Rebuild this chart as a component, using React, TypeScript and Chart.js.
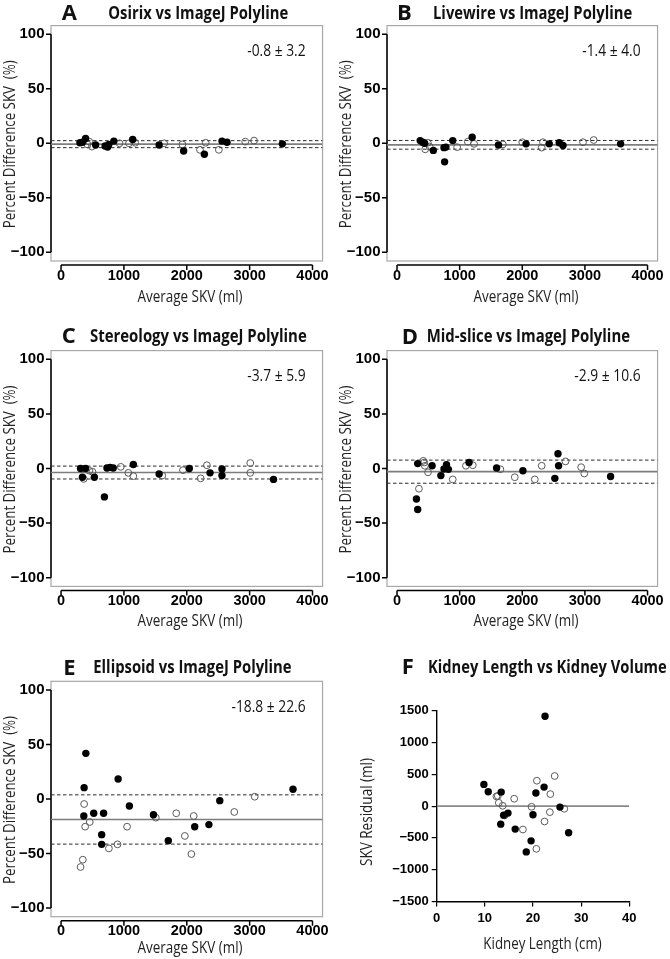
import React, { useEffect, useRef } from 'react';
import { Chart, registerables } from 'chart.js';
Chart.register(...registerables);

// ---------- axes ----------
const SKV_RANGE = [-160, 4160];
const PCT_RANGE = [-108, 108];
const SKV_TICKS = [0, 1000, 2000, 3000, 4000];
const PCT_TICKS = [-100, -50, 0, 50, 100];
const LEN_RANGE = [0, 40];
const RES_RANGE = [-1500, 1500];
const LEN_TICKS = [0, 10, 20, 30, 40];
const RES_TICKS = [-1500, -1000, -500, 0, 500, 1000, 1500];

// ---------- A: Osirix vs ImageJ Polyline ----------
const aSolidX = [300, 340, 390, 550, 700, 740, 760, 840, 1140, 1560, 1950, 2280, 2560, 2640, 3520];
const aSolidY = [0.5, 1, 4.5, -1.5, -2.5, -3.5, -1, 2, 3.5, -1.5, -7, -10, 2, 1, -0.5];
const aOpenX = [420, 450, 490, 930, 1080, 1180, 1640, 1930, 2210, 2300, 2510, 2930, 3070];
const aOpenY = [-1, 1.5, -3, 0, 0, 0.5, 0, -1, -6, 0.5, -6, 1.5, 2.5];
const aStats = [-0.8, 3.2];

// ---------- B: Livewire vs ImageJ Polyline ----------
const bSolidX = [370, 410, 440, 580, 750, 780, 760, 890, 1200, 1620, 2060, 2430, 2590, 2650, 3570];
const bSolidY = [2.5, 1, 0, -6.5, -4, -3.5, -17, 2.5, 5.5, -1.5, -0.5, -0.5, 0.5, -2, -0.5];
const bOpenX = [450, 490, 520, 960, 1130, 1230, 1690, 2000, 2310, 2330, 2970, 3140];
const bOpenY = [-5.5, 0.5, -3, -3.5, 1.5, -0.5, -1, 1, -4, 1, 1, 3];
const bStats = [-1.4, 4.0];

// ---------- C: Stereology vs ImageJ Polyline ----------
const cSolidX = [310, 340, 390, 530, 690, 730, 780, 830, 1150, 1560, 2040, 2370, 2560, 2560, 3380];
const cSolidY = [0, -8, 0, -8, -26, 0.5, 1, 0.5, 3.7, -5, 0, -4, -0.5, -6.5, -10];
const cOpenX = [360, 450, 500, 950, 1070, 1150, 1610, 1940, 2220, 2320, 3010, 3010];
const cOpenY = [-9.5, -2, -3, 1.5, -4, -7, -6.5, -1.5, -9, 3, 5, -4];
const cStats = [-3.7, 5.9];

// ---------- D: Mid-slice vs ImageJ Polyline ----------
const dSolidX = [310, 330, 330, 560, 700, 750, 790, 820, 1150, 1590, 2010, 2520, 2570, 2580, 3410];
const dSolidY = [-28, -37.5, 4.5, 2.5, -6.5, -0.5, 3.5, -0.8, 5.5, 0.5, -2, -9, 13.5, 2.5, -7.3];
const dOpenX = [350, 420, 435, 445, 495, 890, 1100, 1210, 1650, 1880, 2200, 2310, 2690, 2940, 2990];
const dOpenY = [-18.5, 7, 5.5, 2.5, -3.5, -10, 2.5, 3, -0.7, -8, -10, 2.5, 6.5, 1.2, -4.6];
const dStats = [-2.9, 10.6];

// ---------- E: Ellipsoid vs ImageJ Polyline ----------
const eSolidX = [394, 367, 362, 520, 677, 646, 646, 908, 1087, 1470, 1706, 2126, 2352, 2525, 3690];
const eSolidY = [41.9, 10.4, -15.6, -13.1, -13.1, -32.7, -41.6, 18.3, -6.4, -14.4, -38.2, -25.4, -23.5, -1.5, 8.9];
const eOpenX = [367, 383, 457, 346, 310, 761, 898, 1050, 1507, 1832, 1969, 2073, 2110, 2756, 3081];
const eOpenY = [-4.6, -25.4, -21.1, -55.7, -62.4, -45.3, -41.6, -25.4, -17.1, -13.1, -33.9, -50.5, -15.6, -11.9, 2.1];
const eStats = [-18.8, 22.6];

// ---------- F: Kidney Length vs Kidney Volume ----------
const fSolidX = [9.8, 10.7, 13.4, 13.3, 13.9, 14.8, 16.3, 18.6, 19.6, 20.0, 20.6, 22.3, 22.5, 25.6, 27.4];
const fSolidY = [341, 226, 220, -284, -142, -110, -362, -720, -546, -137, 205, 299, 1413, -16, -420];
const fOpenX = [12.4, 12.7, 12.9, 13.7, 14.1, 16.1, 17.9, 19.7, 20.8, 20.7, 22.4, 23.6, 23.5, 24.5, 26.5];
const fOpenY = [152, 160, 52, 5, -147, 116, -368, -11, 399, -672, -242, 189, -95, 473, -42];

const zip = (xs: number[], ys: number[]) => xs.map((x, i) => ({ x, y: ys[i] }));
const fmt = (v: number) => (v < 0 ? '\u2212' + Math.abs(v) : String(v));

const TITLE_FONT = 'bold 17px "Open Sans"';
const LETTER_FONT = 'bold 22px "Open Sans"';
const TEXT_FONT = '16px "Open Sans"';
const TICK_FAMILY = '"Liberation Sans", Arial, sans-serif';

type PanelDef = {
  kind: 'BA' | 'F';
  left: number; top: number; width: number; height: number;
  box: number[]; // page coords L, T, R, B
  letter: string; letterX: number; letterY: number;
  title: string; titleX: number; titleW: number | null; titleY: number;
  xTitle: string; xTitleX: number; xTitleY: number; xTitleW: number;
  yTitle: string; yTitleX: number; yTitleY: number; yTitleW: number;
  stats?: number[];
  solidX: number[]; solidY: number[]; openX: number[]; openY: number[];
};

const COLS = [{ L: 51, R: 325, ox: 0 }, { L: 387, R: 661, ox: 335 }];
const ROWS = [
  { T: 25.6, B: 261, oy: 0, h: 320, xt: 297 },
  { T: 350.6, B: 586.4, oy: 320, h: 320, xt: 621.7 },
  { T: 681.3, B: 916.7, oy: 640, h: 319, xt: 948.3 },
];

function ba(col: number, row: number, letter: string, letterX: number, letterY: number, title: string,
  titleX: number, titleW: number | null, stats: number[], sx: number[], sy: number[], ox: number[], oy: number[]): PanelDef {
  const c = COLS[col], r = ROWS[row];
  return {
    kind: 'BA', left: c.ox, top: r.oy, width: 335, height: r.h,
    box: [c.L, r.T, c.R, r.B],
    letter, letterX, letterY, title, titleX, titleW, titleY: letterY,
    xTitle: 'Average SKV (ml)', xTitleX: (c.L + c.R) / 2 + 2, xTitleY: r.xt, xTitleW: 105,
    yTitle: 'Percent Difference SKV  (%)', yTitleX: c.L - 41, yTitleY: (r.T + r.B) / 2 + 1, yTitleW: 168,
    stats, solidX: sx, solidY: sy, openX: ox, openY: oy,
  };
}

const PANELS: PanelDef[] = [
  ba(0, 0, 'A', 61.7, 14, 'Osirix vs ImageJ Polyline', 108.3, 180, aStats, aSolidX, aSolidY, aOpenX, aOpenY),
  ba(1, 0, 'B', 397, 14, 'Livewire vs ImageJ Polyline', 433, null, bStats, bSolidX, bSolidY, bOpenX, bOpenY),
  ba(0, 1, 'C', 61.7, 336.7, 'Stereology vs ImageJ Polyline', 90, 216.7, cStats, cSolidX, cSolidY, cOpenX, cOpenY),
  ba(1, 1, 'D', 401.7, 337.3, 'Mid-slice vs ImageJ Polyline', 426.7, 203.3, dStats, dSolidX, dSolidY, dOpenX, dOpenY),
  ba(0, 2, 'E', 63.3, 668.3, 'Ellipsoid vs ImageJ Polyline', 93.3, 198.3, eStats, eSolidX, eSolidY, eOpenX, eOpenY),
  {
    kind: 'F', left: 335, top: 640, width: 335, height: 319,
    box: [436.7, 710.7, 629.3, 901.5],
    letter: 'F', letterX: 401.7, letterY: 668,
    title: 'Kidney Length vs Kidney Volume', titleX: 428, titleW: 238.7, titleY: 668,
    xTitle: 'Kidney Length (cm)', xTitleX: 542.5, xTitleY: 944, xTitleW: 118.3,
    yTitle: 'SKV Residual (ml)', yTitleX: 367.3, yTitleY: 812, yTitleW: 108,
    solidX: fSolidX, solidY: fSolidY, openX: fOpenX, openY: fOpenY,
  },
];

function drawText(ctx: CanvasRenderingContext2D, text: string, x: number, y: number, font: string,
  align: CanvasTextAlign, opts: { width?: number | null; ref?: [string, number]; rotate?: boolean; color?: string }) {
  ctx.save();
  ctx.font = font;
  ctx.fillStyle = opts.color || '#111';
  ctx.textAlign = align;
  ctx.textBaseline = 'middle';
  ctx.translate(x, y);
  if (opts.rotate) ctx.rotate(-Math.PI / 2);
  let s = 1;
  if (opts.width) s = opts.width / ctx.measureText(text).width;
  else if (opts.ref) s = opts.ref[1] / ctx.measureText(opts.ref[0]).width;
  ctx.scale(s, 1);
  ctx.fillText(text, 0, 0);
  ctx.restore();
}

function makeConfig(p: PanelDef): any {
  const isF = p.kind === 'F';
  const [bL, bT, bR, bB] = p.box;
  const ox = p.left, oy = p.top;
  const xr = isF ? LEN_RANGE : SKV_RANGE;
  const yr = isF ? RES_RANGE : PCT_RANGE;
  const xt = isF ? LEN_TICKS : SKV_TICKS;
  const yt = isF ? RES_TICKS : PCT_TICKS;

  const hline = (v: number, color: string, w: number, dash: number[]) => ({
    data: [{ x: xr[0], y: v }, { x: xr[1], y: v }],
    showLine: true, borderColor: color, borderWidth: w, borderDash: dash,
    pointRadius: 0, fill: false, order: 5,
  });

  const datasets: any[] = [];
  if (isF) {
    datasets.push(hline(0, '#8a8a8a', 1.6, []));
  } else {
    const [m, sd] = p.stats!;
    datasets.push(hline(m, '#7d7d7d', 1.6, []));
    datasets.push(hline(m + sd, '#2a2a2a', 1, [3.5, 2.5]));
    datasets.push(hline(m - sd, '#2a2a2a', 1, [3.5, 2.5]));
  }
  datasets.push({
    data: zip(p.openX, p.openY), pointRadius: 3.4, pointBorderWidth: 1,
    pointBackgroundColor: 'rgba(255,255,255,0)', pointBorderColor: '#5a5a5a', order: 2,
  });
  datasets.push({
    data: zip(p.solidX, p.solidY), pointRadius: 3.7, pointBorderWidth: 0,
    pointBackgroundColor: '#000', pointBorderColor: '#000', order: 1,
  });

  const plugin = {
    id: 'panelDecor',
    beforeDatasetsDraw(chart: any) {
      if (isF) return;
      const { ctx, chartArea: ca, scales } = chart;
      const x = scales.x, y = scales.y;
      ctx.save();
      ctx.strokeStyle = '#a8a8a8';
      ctx.lineWidth = 1.2;
      ctx.strokeRect(ca.left, ca.top, ca.right - ca.left, ca.bottom - ca.top);
      ctx.strokeStyle = '#000';
      ctx.lineWidth = 1.5;
      // y axis
      const y0 = y.getPixelForValue(yt[0]), y1 = y.getPixelForValue(yt[yt.length - 1]);
      ctx.beginPath();
      ctx.moveTo(ca.left, y0); ctx.lineTo(ca.left, y1);
      yt.forEach((v) => { const py = y.getPixelForValue(v); ctx.moveTo(ca.left - 5, py); ctx.lineTo(ca.left, py); });
      ctx.stroke();
      // x axis (offset below box)
      const ay = ca.bottom + 4;
      ctx.beginPath();
      ctx.moveTo(x.getPixelForValue(xt[0]), ay); ctx.lineTo(x.getPixelForValue(xt[xt.length - 1]), ay);
      xt.forEach((v) => { const px = x.getPixelForValue(v); ctx.moveTo(px, ay); ctx.lineTo(px, ay + 5); });
      ctx.stroke();
      ctx.restore();
    },
    afterDraw(chart: any) {
      const { ctx, chartArea: ca } = chart;
      drawText(ctx, p.letter, p.letterX - ox, p.letterY - oy, LETTER_FONT, 'left', { color: '#111' });
      drawText(ctx, p.title, p.titleX - ox, p.titleY - oy, TITLE_FONT, 'left',
        { width: p.titleW, ref: ['Osirix vs ImageJ Polyline', 180], color: '#111' });
      drawText(ctx, p.xTitle, p.xTitleX - ox, p.xTitleY - oy, TEXT_FONT, 'center', { width: p.xTitleW, color: '#222' });
      drawText(ctx, p.yTitle, p.yTitleX - ox, p.yTitleY - oy, TEXT_FONT, 'center', { width: p.yTitleW, rotate: true, color: '#222' });
      if (!isF) {
        const [m, sd] = p.stats!;
        const label = m.toFixed(1) + ' \u00b1 ' + sd.toFixed(1);
        drawText(ctx, label, ca.right - 17, ca.top + 26, TEXT_FONT, 'right',
          { ref: ['-0.8 \u00b1 3.2', 58.3], color: '#111' });
      }
    },
  };

  const tickFont = (size: number) => ({ family: TICK_FAMILY, weight: 'bold' as const, size });

  return {
    type: 'scatter',
    data: { datasets },
    options: {
      responsive: false,
      animation: false,
      events: [],
      layout: { padding: { left: 0, top: bT - oy, right: ox + p.width - bR, bottom: 0 } },
      plugins: { legend: { display: false }, tooltip: { enabled: false }, title: { display: false } },
      scales: {
        x: {
          type: 'linear', min: xr[0], max: xr[1],
          afterBuildTicks: (s: any) => { s.ticks = xt.map((v) => ({ value: v })); },
          afterFit: (s: any) => { s.height = oy + p.height - bB; },
          ticks: {
            callback: (v: number) => fmt(v), font: tickFont(isF ? 13 : 14.5), color: '#000',
            padding: isF ? 4 : 6, maxRotation: 0, autoSkip: false,
          },
          grid: isF
            ? { display: true, drawOnChartArea: false, drawTicks: true, tickLength: 5, color: '#000', lineWidth: 1.2 }
            : { display: false, drawTicks: false },
          border: isF ? { display: true, color: '#000', width: 1.4 } : { display: false },
        },
        y: {
          type: 'linear', min: yr[0], max: yr[1],
          afterBuildTicks: (s: any) => { s.ticks = yt.map((v) => ({ value: v })); },
          afterFit: (s: any) => { s.width = bL - ox; },
          ticks: {
            callback: (v: number) => fmt(v), font: tickFont(isF ? 13 : 15), color: '#000',
            padding: isF ? 3 : 6.5, autoSkip: false,
          },
          grid: isF
            ? { display: true, drawOnChartArea: false, drawTicks: true, tickLength: 5, color: '#000', lineWidth: 1.2 }
            : { display: false, drawTicks: false },
          border: isF ? { display: true, color: '#000', width: 1.4 } : { display: false },
        },
      },
    },
    plugins: [plugin],
  };
}

function PanelChart({ p }: { p: PanelDef }) {
  const ref = useRef<HTMLCanvasElement>(null);
  useEffect(() => {
    const chart = new Chart(ref.current as HTMLCanvasElement, makeConfig(p));
    return () => chart.destroy();
  }, [p]);
  return (
    <canvas
      ref={ref}
      width={p.width}
      height={p.height}
      style={{ position: 'absolute', left: p.left, top: p.top, width: p.width, height: p.height }}
    />
  );
}

export default function App() {
  return (
    <div style={{ position: 'absolute', left: 0, top: 0, width: 670, height: 959, background: '#fff', overflow: 'hidden' }}>
      {PANELS.map((p, i) => (
        <PanelChart key={i} p={p} />
      ))}
    </div>
  );
}
